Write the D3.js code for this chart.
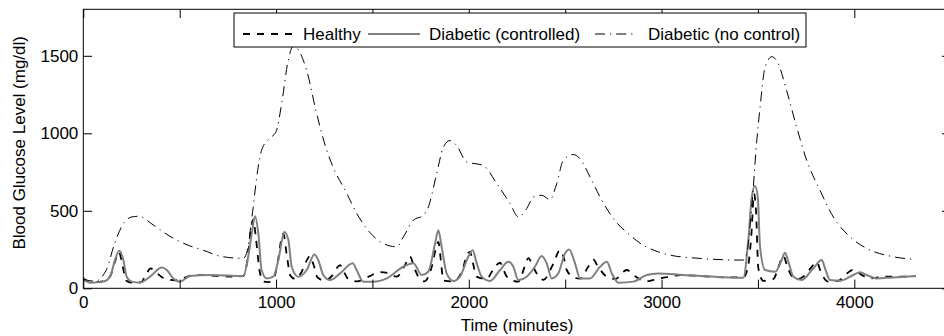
<!DOCTYPE html>
<html>
<head>
<meta charset="utf-8">
<script src="https://cdn.jsdelivr.net/npm/d3@7"></script>
<style>
  body { margin: 0; background: #fff; }
  svg { display: block; overflow: hidden; font-family: "Liberation Sans", Arial, sans-serif; }
</style>
</head>
<body>
<div id="chart"></div>
<script>
// Series (time in minutes, glucose in mg/dl)
const healthyTime = [0,35,100,140,165,185,205,222,250,300,325,350,375,410,450,480,520,560,620,700,760,830,850,870,882,895,915,934,960,990,1010,1025,1038,1055,1075,1100,1130,1155,1176,1195,1215,1250,1290,1315,1332,1350,1375,1420,1480,1539,1590,1626,1665,1695,1718,1738,1770,1808,1830,1842,1855,1868,1920,1970,1990,2006,2022,2040,2090,2136,2162,2180,2197,2257,2290,2309,2330,2352,2387,2439,2473,2492,2508,2545,2577,2620,2646,2670,2716,2760,2819,2860,2923,2980,3100,3200,3286,3424,3450,3465,3480,3490,3502,3528,3580,3610,3632,3650,3675,3705,3735,3780,3805,3825,3850,3865,3920,3961,3990,4040,4082,4150,4250,4320];
const healthyGlucose = [60,38,45,80,175,232,140,50,36,40,90,128,105,70,55,52,65,82,85,78,76,78,170,380,445,330,110,43,40,70,180,300,352,220,80,60,100,170,208,150,70,50,80,130,150,110,60,45,75,105,95,75,140,205,130,75,45,140,260,300,180,50,45,130,215,235,160,75,60,140,165,120,75,43,140,195,150,96,55,160,246,200,118,70,62,140,185,140,75,60,118,80,45,60,85,80,72,70,150,330,610,500,130,48,60,150,210,150,80,60,75,140,170,110,55,43,50,95,118,85,64,75,75,78];

const controlledTime = [0,35,104,139,164,187,208,225,251,294,346,407,433,467,502,554,657,830,855,874,891,908,925,951,986,1012,1043,1064,1081,1115,1159,1199,1219,1245,1280,1332,1398,1418,1453,1505,1574,1660,1712,1756,1790,1825,1842,1859,1885,1920,1954,1997,2020,2041,2067,2110,2162,2205,2231,2257,2300,2343,2378,2404,2430,2464,2499,2521,2551,2577,2629,2681,2716,2742,2776,2854,2923,2983,3113,3424,3450,3468,3485,3499,3511,3537,3589,3623,3640,3658,3684,3727,3787,3831,3848,3874,3926,3995,4030,4064,4116,4200,4320];
const controlledGlucose = [68,36,43,75,182,242,182,75,43,36,75,135,118,64,43,79,86,79,200,354,465,354,118,64,75,182,364,311,139,75,118,218,182,86,53,96,161,118,43,43,64,139,161,86,107,289,375,268,96,47,75,203,246,161,75,47,118,171,139,53,75,139,208,161,64,96,225,251,161,64,64,139,171,96,36,43,86,96,86,68,311,589,660,589,268,118,107,182,229,171,75,53,129,182,129,53,49,86,103,86,64,70,79];

const noControlTime = [0,60,120,160,200,250,290,350,450,550,622,710,830,850,875,907,925,960,1000,1030,1060,1090,1120,1160,1210,1263,1296,1367,1418,1487,1556,1626,1660,1712,1764,1790,1833,1868,1902,1937,1989,2032,2075,2145,2214,2257,2300,2335,2378,2421,2456,2490,2542,2577,2629,2681,2750,2836,2905,2983,3044,3199,3424,3442,3468,3494,3511,3537,3572,3606,3649,3701,3753,3822,3891,3978,4064,4185,4320];
const noControlGlucose = [60,45,120,280,400,460,465,420,335,275,246,207,193,240,460,780,890,960,1010,1200,1450,1565,1530,1400,1130,890,782,612,484,360,289,268,330,439,471,525,739,910,953,921,814,804,793,675,547,460,514,589,600,572,675,825,863,836,718,589,450,343,278,235,214,193,182,225,525,953,1168,1425,1494,1447,1275,1039,825,632,460,332,257,208,186];

const xTicks = [0,500,1000,1500,2000,2500,3000,3500,4000,4500];
const yTicks = [0,500,1000,1500];
const legendLabels = ["Healthy", "Diabetic (controlled)", "Diabetic (no control)"];

const W = 944, H = 336;
const margin = { top: 9.3, left: 83.3 };
const width = 867.4, height = 279;
const tick = 8.7;

const x = d3.scaleLinear().domain([0, 4500]).range([0, width]);
const y = d3.scaleLinear().domain([0, 1800]).range([height, 0]);

const svg = d3.select("#chart").append("svg")
  .attr("width", W).attr("height", H);

const g = svg.append("g")
  .attr("transform", `translate(${margin.left},${margin.top})`);

g.append("clipPath").attr("id", "clip")
  .append("rect").attr("width", width).attr("height", height);

const series = [
  { t: healthyTime, v: healthyGlucose, stroke: "#000", width: 1.8, dash: "7,7" },
  { t: controlledTime, v: controlledGlucose, stroke: "#808080", width: 2, dash: null },
  { t: noControlTime, v: noControlGlucose, stroke: "#000", width: 1, dash: "10,5,1.2,5" },
];

const line = d3.line()
  .x((d) => x(d[0]))
  .y((d) => y(d[1]))
  .curve(d3.curveMonotoneX);

const lines = g.append("g").attr("clip-path", "url(#clip)");
series.forEach((s) => {
  lines.append("path")
    .datum(d3.zip(s.t, s.v))
    .attr("fill", "none")
    .attr("stroke", s.stroke)
    .attr("stroke-width", s.width)
    .attr("stroke-dasharray", s.dash)
    .attr("stroke-linejoin", "round")
    .attr("d", line);
});

// axes, ticks pointing inward like matlab
function styleAxis(sel) {
  sel.select(".domain").remove();
  sel.selectAll("line").attr("stroke", "#000");
  sel.selectAll("text").attr("fill", "#000").style("font-size", "17px")
    .style("font-family", '"Liberation Sans", Arial, sans-serif');
}

g.append("g")
  .attr("transform", `translate(0,${height})`)
  .call(d3.axisBottom(x).tickValues(xTicks).tickSize(-tick).tickPadding(8)
    .tickFormat((d) => (d % 1000 === 0 ? d : "")))
  .call(styleAxis);

g.append("g")
  .call(d3.axisTop(x).tickValues(xTicks).tickSize(-tick).tickFormat(""))
  .call(styleAxis);

g.append("g")
  .call(d3.axisLeft(y).tickValues(yTicks).tickSize(-tick).tickPadding(5)
    .tickFormat(d3.format("d")))
  .call(styleAxis);

g.append("g")
  .attr("transform", `translate(${width},0)`)
  .call(d3.axisRight(y).tickValues(yTicks).tickSize(-tick).tickFormat(""))
  .call(styleAxis);

g.append("rect")
  .attr("width", width).attr("height", height)
  .attr("fill", "none").attr("stroke", "#000").attr("stroke-width", 1);

// axis labels
svg.append("text")
  .attr("x", margin.left + width / 2)
  .attr("y", 331)
  .attr("text-anchor", "middle")
  .style("font-size", "17px")
  .text("Time (minutes)");

svg.append("text")
  .attr("transform", `translate(25,${margin.top + height / 2 - 6}) rotate(-90)`)
  .attr("text-anchor", "middle")
  .style("font-size", "17px")
  .text("Blood Glucose Level (mg/dl)");

// legend
const legend = svg.append("g");
legend.append("rect")
  .attr("x", 234).attr("y", 13).attr("width", 572).attr("height", 34)
  .attr("fill", "#fff").attr("stroke", "#000").attr("stroke-width", 1);

const legendPos = [
  { x1: 243, x2: 293, tx: 303 },
  { x1: 368, x2: 420, tx: 429 },
  { x1: 595, x2: 633, tx: 648 },
];
legendLabels.forEach((label, i) => {
  const s = series[i], p = legendPos[i];
  legend.append("line")
    .attr("x1", p.x1).attr("x2", p.x2).attr("y1", 34).attr("y2", 34)
    .attr("stroke", s.stroke).attr("stroke-width", s.width)
    .attr("stroke-dasharray", s.dash);
  legend.append("text")
    .attr("x", p.tx).attr("y", 40)
    .style("font-size", "17px")
    .text(label);
});
</script>
</body>
</html>
